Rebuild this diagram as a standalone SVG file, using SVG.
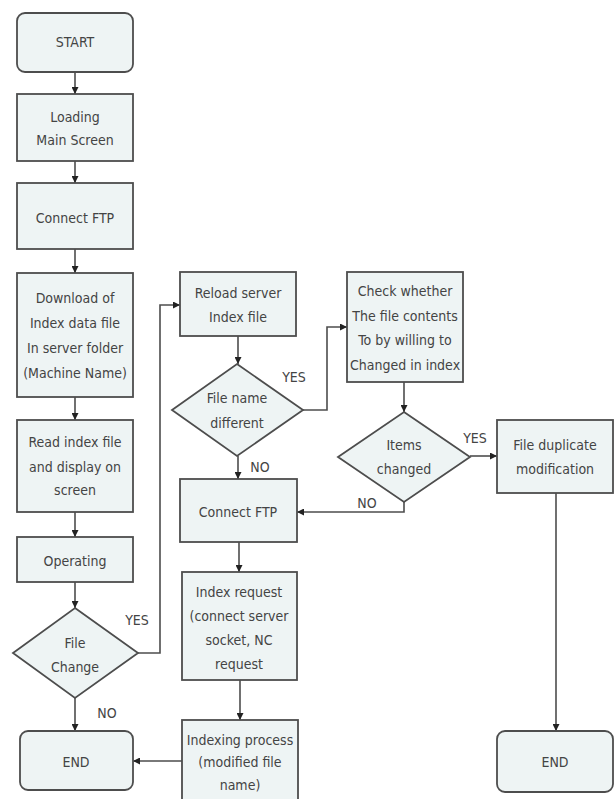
<svg xmlns="http://www.w3.org/2000/svg" width="614" height="799" viewBox="0 0 614 799">
  <style>
    .box { fill: #eef4f4; stroke: #4d4d4d; stroke-width: 1.8; }
    .lbl { font-family: "DejaVu Sans Condensed", "Liberation Sans Narrow", "Liberation Sans", sans-serif; font-size: 14px; fill: #444; text-anchor: middle; dominant-baseline: central; }
    .edge { fill: none; stroke: #4d4d4d; stroke-width: 1.6; }
  </style>
  <defs>
    <marker id="arrow" viewBox="0 0 10 10" refX="10" refY="5" markerWidth="7" markerHeight="7" markerUnits="userSpaceOnUse" orient="auto">
      <path d="M0,0 L10,5 L0,10 z" fill="#222"/>
    </marker>
  </defs>
  <rect width="614" height="799" fill="#ffffff"/>

  <!-- connectors -->
  <g id="connectors">
    <path class="edge" d="M75,72 V94" marker-end="url(#arrow)"/>
    <path class="edge" d="M75,161 V183" marker-end="url(#arrow)"/>
    <path class="edge" d="M75,249 V273" marker-end="url(#arrow)"/>
    <path class="edge" d="M75,397 V420" marker-end="url(#arrow)"/>
    <path class="edge" d="M75,512 V537" marker-end="url(#arrow)"/>
    <path class="edge" d="M75,582 V608" marker-end="url(#arrow)"/>
    <path class="edge" d="M75,698 V731" marker-end="url(#arrow)"/>
    <path class="edge" d="M138,653 H160 V305 H180" marker-end="url(#arrow)"/>
    <path class="edge" d="M238,336 V364" marker-end="url(#arrow)"/>
    <path class="edge" d="M303,410 H327 V327 H347" marker-end="url(#arrow)"/>
    <path class="edge" d="M238,456 V479" marker-end="url(#arrow)"/>
    <path class="edge" d="M404,382 V412" marker-end="url(#arrow)"/>
    <path class="edge" d="M470,456 H497" marker-end="url(#arrow)"/>
    <path class="edge" d="M404,502 V512 H297" marker-end="url(#arrow)"/>
    <path class="edge" d="M239,542 V572" marker-end="url(#arrow)"/>
    <path class="edge" d="M240,680 V720" marker-end="url(#arrow)"/>
    <path class="edge" d="M182,761 H133" marker-end="url(#arrow)"/>
    <path class="edge" d="M556,493 V731" marker-end="url(#arrow)"/>
    <text class="lbl" x="137" y="620">YES</text>
    <text class="lbl" x="107" y="713">NO</text>
    <text class="lbl" x="294" y="377">YES</text>
    <text class="lbl" x="260" y="467">NO</text>
    <text class="lbl" x="475" y="438">YES</text>
    <text class="lbl" x="367" y="503">NO</text>
  </g>

  <g id="start">
    <rect class="box" x="17" y="13" width="116" height="59" rx="8"/>
    <text class="lbl" x="75" y="42">START</text>
  </g>
  <g id="loading">
    <rect class="box" x="17" y="94" width="116" height="67"/>
    <text class="lbl" x="75" y="117">Loading</text>
    <text class="lbl" x="75" y="140">Main Screen</text>
  </g>
  <g id="connect-ftp-1">
    <rect class="box" x="17" y="183" width="116" height="66"/>
    <text class="lbl" x="75" y="218">Connect FTP</text>
  </g>
  <g id="download">
    <rect class="box" x="17" y="273" width="116" height="124"/>
    <text class="lbl" x="75" y="298">Download of</text>
    <text class="lbl" x="75" y="323">Index data file</text>
    <text class="lbl" x="75" y="348">In server folder</text>
    <text class="lbl" x="75" y="373">(Machine Name)</text>
  </g>
  <g id="read-index">
    <rect class="box" x="17" y="420" width="116" height="92"/>
    <text class="lbl" x="75" y="442">Read index file</text>
    <text class="lbl" x="75" y="467">and display on</text>
    <text class="lbl" x="75" y="490">screen</text>
  </g>
  <g id="operating">
    <rect class="box" x="17" y="537" width="116" height="45"/>
    <text class="lbl" x="75" y="561">Operating</text>
  </g>
  <g id="file-change">
    <polygon class="box" points="75,608 138,653 75,698 13,653"/>
    <text class="lbl" x="75" y="643">File</text>
    <text class="lbl" x="75" y="667">Change</text>
  </g>
  <g id="end-1">
    <rect class="box" x="20" y="731" width="113" height="59" rx="8"/>
    <text class="lbl" x="76" y="762">END</text>
  </g>

  <g id="reload">
    <rect class="box" x="180" y="272" width="116" height="64"/>
    <text class="lbl" x="238" y="293">Reload server</text>
    <text class="lbl" x="238" y="317">Index file</text>
  </g>
  <g id="file-name-different">
    <polygon class="box" points="237,364 303,410 237,456 172,410"/>
    <text class="lbl" x="237" y="398">File name</text>
    <text class="lbl" x="237" y="423">different</text>
  </g>
  <g id="connect-ftp-2">
    <rect class="box" x="180" y="479" width="117" height="63"/>
    <text class="lbl" x="238" y="512">Connect FTP</text>
  </g>
  <g id="index-request">
    <rect class="box" x="182" y="572" width="115" height="108"/>
    <text class="lbl" x="239" y="592">Index request</text>
    <text class="lbl" x="239" y="616">(connect server</text>
    <text class="lbl" x="239" y="640">socket, NC</text>
    <text class="lbl" x="239" y="664">request</text>
  </g>
  <g id="indexing-process">
    <rect class="box" x="182" y="720" width="116" height="90"/>
    <text class="lbl" x="240" y="740">Indexing process</text>
    <text class="lbl" x="240" y="762">(modified file</text>
    <text class="lbl" x="240" y="785">name)</text>
  </g>

  <g id="check-whether">
    <rect class="box" x="347" y="272" width="116" height="110"/>
    <text class="lbl" x="405" y="291">Check whether</text>
    <text class="lbl" x="405" y="316">The file contents</text>
    <text class="lbl" x="405" y="340">To by willing to</text>
    <text class="lbl" x="405" y="365">Changed in index</text>
  </g>
  <g id="items-changed">
    <polygon class="box" points="404,412 470,457 404,502 338,457"/>
    <text class="lbl" x="404" y="445">Items</text>
    <text class="lbl" x="404" y="469">changed</text>
  </g>
  <g id="file-duplicate">
    <rect class="box" x="497" y="420" width="116" height="73"/>
    <text class="lbl" x="555" y="445">File duplicate</text>
    <text class="lbl" x="555" y="469">modification</text>
  </g>
  <g id="end-2">
    <rect class="box" x="497" y="731" width="116" height="61" rx="8"/>
    <text class="lbl" x="555" y="762">END</text>
  </g>
</svg>
